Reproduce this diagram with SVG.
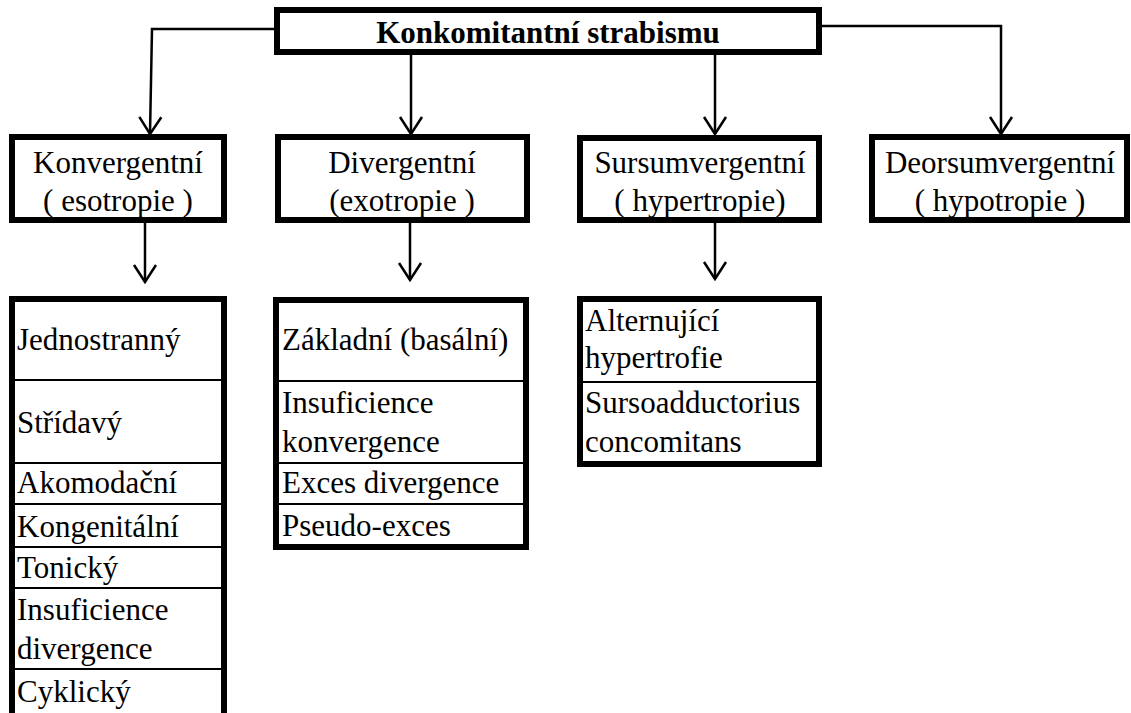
<svg xmlns="http://www.w3.org/2000/svg" width="1131" height="713" viewBox="0 0 1131 713">
<style>
.box{fill:#fff;stroke:#000;stroke-width:6}
.sep{stroke:#000;stroke-width:2}
.t{font-family:"Liberation Serif","Times New Roman",serif;font-size:31px;fill:#000}
.c{text-anchor:middle}
.b{font-weight:bold}
.con{fill:none;stroke:#000;stroke-width:2.5}
</style>
<defs>
<marker id="arr" viewBox="-20 -13 22 26" refX="0" refY="0" markerWidth="22" markerHeight="26" markerUnits="userSpaceOnUse" orient="auto">
<path d="M -17 -11 L 0 0 L -17 11" fill="none" stroke="#000" stroke-width="2.5"/>
</marker>
</defs>
<rect width="1131" height="713" fill="#fff"/>
<g id="connectors">
<polyline class="con" points="274,29 152,29 150,134" marker-end="url(#arr)"/>
<line class="con" x1="411" y1="55" x2="411" y2="134" marker-end="url(#arr)"/>
<line class="con" x1="715" y1="55" x2="715" y2="134" marker-end="url(#arr)"/>
<polyline class="con" points="822,26 1001,26 1001,134" marker-end="url(#arr)"/>
<line class="con" x1="145" y1="223" x2="145" y2="282" marker-end="url(#arr)"/>
<line class="con" x1="410" y1="223" x2="410" y2="280" marker-end="url(#arr)"/>
<line class="con" x1="715" y1="223" x2="715" y2="279" marker-end="url(#arr)"/>
</g>
<g id="root">
<rect class="box" x="277" y="10" width="542" height="42"/>
<text class="t b c" x="548" y="43">Konkomitantní strabismu</text>
</g>
<g id="konvergentni">
<rect class="box" x="12" y="137" width="212" height="83"/>
<text class="t c" x="118" y="173">Konvergentní</text>
<text class="t c" x="118" y="211">( esotropie )</text>
</g>
<g id="divergentni">
<rect class="box" x="278" y="137" width="249" height="83"/>
<text class="t c" x="402" y="173">Divergentní</text>
<text class="t c" x="402" y="211">(exotropie )</text>
</g>
<g id="sursumvergentni">
<rect class="box" x="580" y="138" width="239" height="82"/>
<text class="t c" x="700" y="173">Sursumvergentní</text>
<text class="t c" x="700" y="211">( hypertropie)</text>
</g>
<g id="deorsumvergentni">
<rect class="box" x="872" y="137" width="255" height="83"/>
<text class="t c" x="1000" y="173">Deorsumvergentní</text>
<text class="t c" x="1000" y="211">( hypotropie )</text>
</g>
<g id="konv-list">
<rect class="box" x="12" y="299" width="212" height="430"/>
<line class="sep" x1="12" y1="380" x2="224" y2="380"/>
<line class="sep" x1="12" y1="463" x2="224" y2="463"/>
<line class="sep" x1="12" y1="504" x2="224" y2="504"/>
<line class="sep" x1="12" y1="547" x2="224" y2="547"/>
<line class="sep" x1="12" y1="588" x2="224" y2="588"/>
<line class="sep" x1="12" y1="669" x2="224" y2="669"/>
<text class="t" x="17" y="350">Jednostranný</text>
<text class="t" x="17" y="433">Střídavý</text>
<text class="t" x="17" y="493">Akomodační</text>
<text class="t" x="17" y="537">Kongenitální</text>
<text class="t" x="17" y="578">Tonický</text>
<text class="t" x="17" y="620">Insuficience</text>
<text class="t" x="17" y="659">divergence</text>
<text class="t" x="17" y="702">Cyklický</text>
</g>
<g id="div-list">
<rect class="box" x="276" y="300" width="250" height="247"/>
<line class="sep" x1="276" y1="381" x2="526" y2="381"/>
<line class="sep" x1="276" y1="463" x2="526" y2="463"/>
<line class="sep" x1="276" y1="504" x2="526" y2="504"/>
<text class="t" x="282" y="350">Základní (basální)</text>
<text class="t" x="282" y="413">Insuficience</text>
<text class="t" x="282" y="452">konvergence</text>
<text class="t" x="282" y="493">Exces divergence</text>
<text class="t" x="282" y="536">Pseudo-exces</text>
</g>
<g id="sursum-list">
<rect class="box" x="580" y="299" width="239" height="165"/>
<line class="sep" x1="580" y1="382" x2="819" y2="382"/>
<text class="t" x="585" y="331">Alternující</text>
<text class="t" x="585" y="368">hypertrofie</text>
<text class="t" x="585" y="413">Sursoadductorius</text>
<text class="t" x="585" y="452">concomitans</text>
</g>
</svg>
